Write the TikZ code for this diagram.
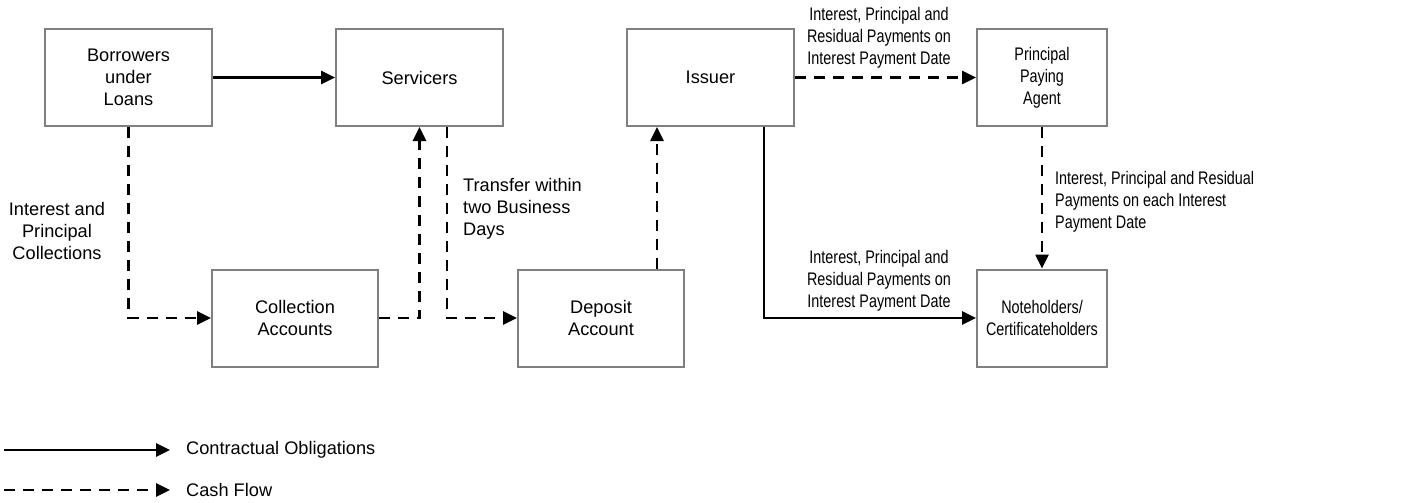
\documentclass[tikz,border=0pt]{standalone}
\usepackage{fontspec}
\setmainfont{Liberation Sans}
\newfontfamily\narrowfont[FakeStretch=0.79]{Liberation Sans}
\usetikzlibrary{arrows.meta}
\begin{document}
\begin{tikzpicture}[x=1pt,y=-1pt,
  txt/.style={font=\fontsize{18.2}{22}\selectfont, align=center, inner sep=0pt},
  ntxt/.style={font=\narrowfont\fontsize{18.2}{22}\selectfont, align=center, inner sep=0pt},
  box/.style={draw={rgb,255:red,128;green,128;blue,128}, line width=2pt, minimum height=97pt, inner sep=0pt, align=center, font=\fontsize{18.2}{22}\selectfont},
  nbox/.style={box, font=\narrowfont\fontsize{18.2}{22}\selectfont},
  contract/.style={line width=2.6pt, -{Triangle[length=14pt,width=13pt]}},
  cash/.style={line width=2.6pt, dash pattern=on 11pt off 8pt, -{Triangle[length=14pt,width=13pt]}}
]
\useasboundingbox (0,0) rectangle (1408,503);

\node[box, minimum width=167pt] (bor) at (128.5,77.5) {Borrowers\\under\\Loans};
\node[box, minimum width=167pt] (serv) at (419.5,77.5) {Servicers};
\node[box, minimum width=166pt] (coll) at (295,318) {Collection\\Accounts};
\node[box, minimum width=166pt] (dep) at (601,318) {Deposit\\Account};
\node[box, minimum width=167pt] (iss) at (710.5,77.5) {Issuer};
\node[nbox, minimum width=130pt] (ppa) at (1042,77.5) {Principal\\Paying\\Agent};
\node[nbox, minimum width=130pt] (note) at (1042,318) {Noteholders/\\Certificateholders};

\draw[contract] (bor.east) -- (serv.west);
\draw[cash] (bor.south) |- (coll.west);
\draw[cash] (coll.east) -| (serv.south);
\draw[cash] ([xshift=27.5pt]serv.south) |- (dep.west);
\draw[cash] ([xshift=56pt]dep.north) -- ([xshift=56pt]dep.north |- iss.south);
\draw[cash] (iss.east) -- (ppa.west);
\draw[contract] ([xshift=53.5pt]iss.south) |- (note.west);
\draw[cash] (ppa.south) -- (note.north);

\node[txt] (l1) at (57,231) {Interest and\\Principal\\Collections};
\node[txt, align=left, anchor=west] (l2) at (463,209) {Transfer within\\two Business\\Days};
\node[ntxt] (l3) at (879,38) {Interest, Principal and\\Residual Payments on\\Interest Payment Date};
\node[ntxt] (l4) at (879,281) {Interest, Principal and\\Residual Payments on\\Interest Payment Date};
\node[ntxt, align=left, anchor=west] (l5) at (1055,202) {Interest, Principal and Residual\\Payments on each Interest\\Payment Date};

\coordinate (a1) at (4,450);
\coordinate (a2) at (170,450);
\coordinate (b1) at (4,490);
\coordinate (b2) at (170,490);
\draw[contract] (a1) -- (a2);
\draw[cash] (b1) -- (b2);
\node[txt, anchor=west] (lc) at (186,450) {Contractual Obligations};
\node[txt, anchor=west] (lf) at (186,490) {Cash Flow};
\end{tikzpicture}
\end{document}
